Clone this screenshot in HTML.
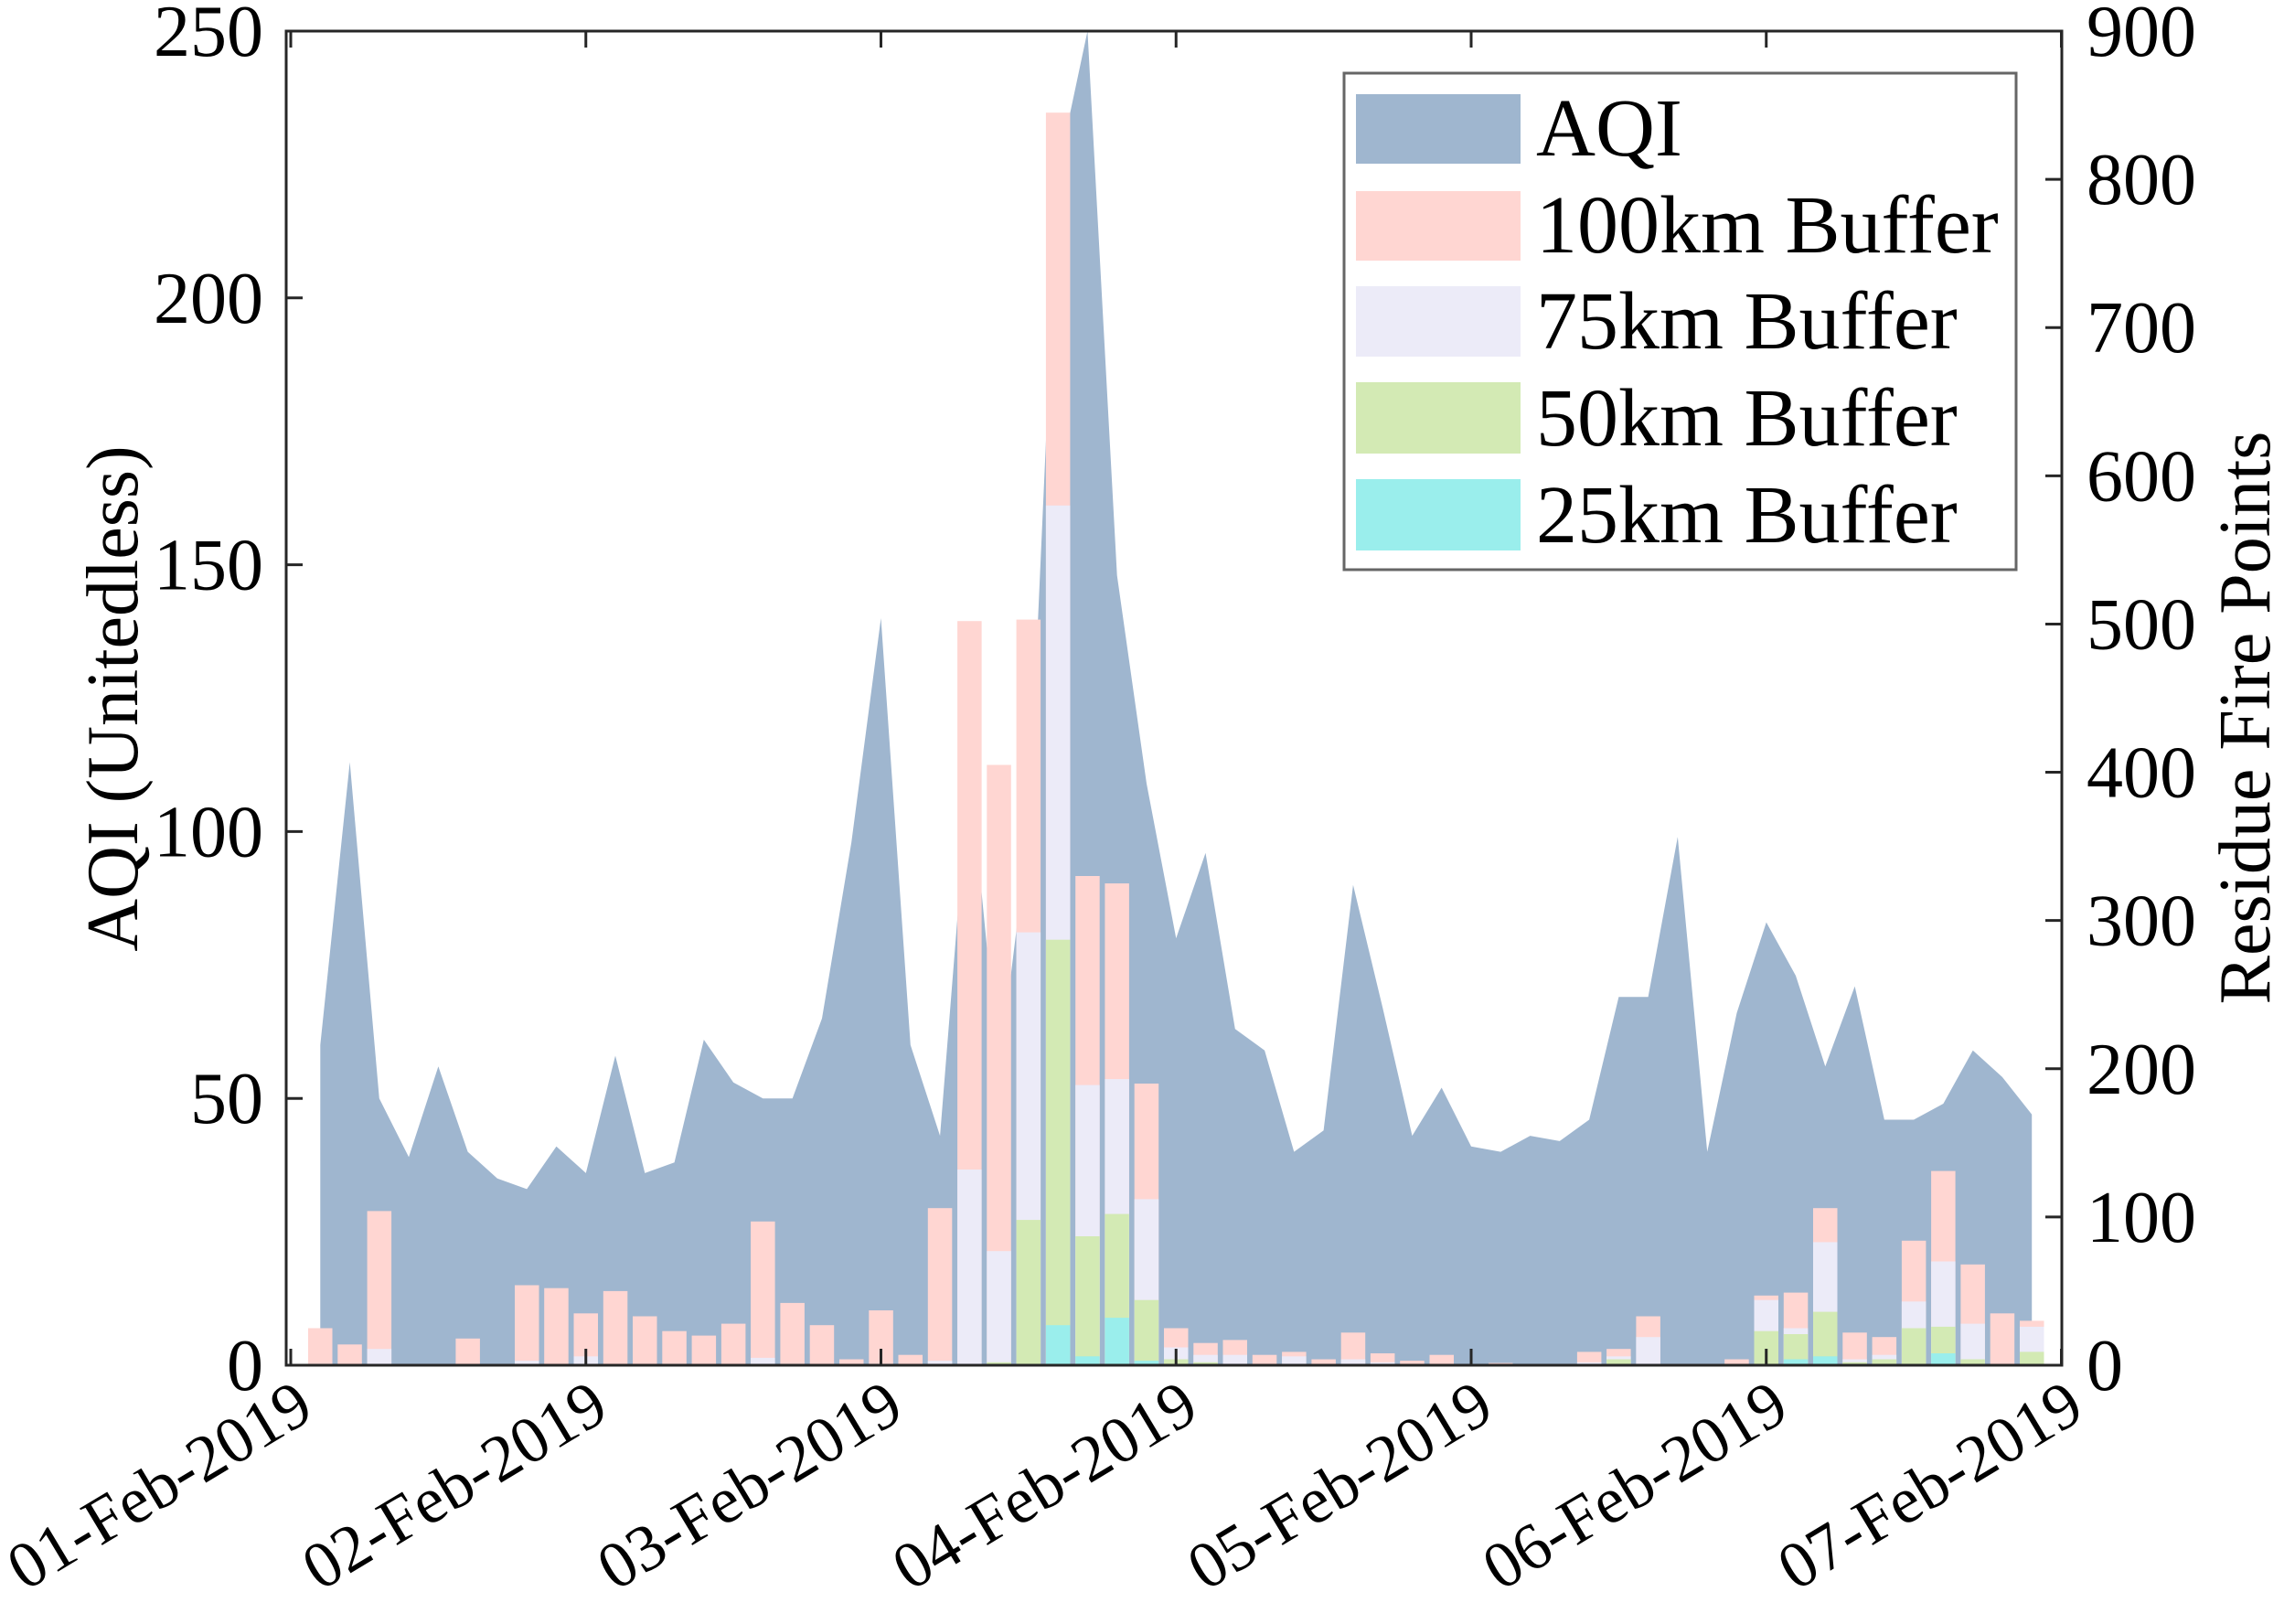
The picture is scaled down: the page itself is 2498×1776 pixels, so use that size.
<!DOCTYPE html>
<html><head><meta charset="utf-8"><style>
html,body{margin:0;padding:0;background:#fff;}
svg text{font-family:"Liberation Serif",serif;fill:#000;}
</style></head><body>
<svg id="chart" width="2498" height="1771" viewBox="0 0 2498 1771" xmlns="http://www.w3.org/2000/svg">
<rect width="2498" height="1771" fill="#fff"/>
<g id="area"></g>
<g id="bars"></g>
<g id="axes"></g>
<g id="legend">
<rect x="1470" y="80" width="735" height="543" fill="#fff" stroke="#666" stroke-width="3"/>
<rect x="1483" y="103" width="180" height="76" fill="#9fb6cf"/>
<text x="1680" y="170" font-size="90">AQI</text>
<rect x="1483" y="209" width="180" height="76" fill="#ffd6d2"/>
<text x="1680" y="276" font-size="90">100km Buffer</text>
<rect x="1483" y="313" width="180" height="77" fill="#ecebf8"/>
<text x="1680" y="381" font-size="90">75km Buffer</text>
<rect x="1483" y="418" width="180" height="78" fill="#d3eab4"/>
<text x="1680" y="487" font-size="90">50km Buffer</text>
<rect x="1483" y="524" width="180" height="78" fill="#9aeeec"/>
<text x="1680" y="593" font-size="90">25km Buffer</text>
</g>
</svg>
<script>
const aqi=[60,113,50,39,56,40,35,33,41,36,58,36,38,61,53,50,50,65,98,140,60,43,112,55,100,224,250,148,109,80,96,63,59,40,44,90,67,43,52,41,40,43,42,46,69,69,99,40,66,83,73,56,71,46,46,49,59,54,47];
const buf100=[25,14,104,0,0,18,0,54,52,35,50,33,23,20,28,97,42,27,4,37,7,106,502,405,503,845,330,325,190,25,15,17,7,9,4,22,8,3,7,0,1.5,0,0,9,11,33,0,0,4,47,49,106,22,19,84,131,68,35,30];
const buf75=[1,0,11,0,0,0,0,3,0,6,0,0,1,0,0,5,1,0,0,1,0,3,132,77,292,580,189,193,112,12,7,7,0,6,0,4,2,0,0,0,0,0,0,2,6,19,0,0,0,44,25,83,4,7,43,70,28,0,26];
const buf50=[0,0,0,0,0,0,0,0,0,0,0,0,0,0,0,0,0,0,0,0,0,0,0,2,98,287,87,102,44,4,2,0,0,0,0,0,0,0,0,0,0,0,0,0,4,0,0,0,0,23,21,36,2,4,25,26,4,0,9];
const buf25=[0,0,0,0,0,0,0,0,0,0,0,0,0,0,0,0,0,0,0,0,0,0,0,0,0,27,6,32,3,0,0,0,0,0,0,0,0,0,0,0,0,0,0,0,0,0,0,0,0,0,4,6,0,0,0,8,0,0,0];
const dateLabels=["01-Feb-2019","02-Feb-2019","03-Feb-2019","04-Feb-2019","05-Feb-2019","06-Feb-2019","07-Feb-2019"];
const leftTicks=[0,50,100,150,200,250];
const rightTicks=[0,100,200,300,400,500,600,700,800,900];

const NS="http://www.w3.org/2000/svg";
const L=313,R=2255,T=34,B=1493;
const xDay=d=>318+d*322.75;
const xIdx=i=>xDay((i+1)/10);
const yL=v=>B-v*(B-T)/250;
const yR=v=>B-v*(B-T)/900;
function mk(tag,attrs,parent){const e=document.createElementNS(NS,tag);for(const k in attrs)e.setAttribute(k,attrs[k]);parent.appendChild(e);return e;}

const area=document.getElementById('area');
let d="M"+xIdx(0)+","+B;
aqi.forEach((v,i)=>{d+=" L"+xIdx(i).toFixed(1)+","+yL(v).toFixed(1);});
d+=" L"+xIdx(aqi.length-1)+","+B+" Z";
const ap=mk('path',{d:d,fill:'#9fb6cf'},area);



const bars=document.getElementById('bars');
const bw=26.5;
const series=[[buf100,'#ffd6d2','bar-100km'],[buf75,'#ecebf8','bar-75km'],[buf50,'#d3eab4','bar-50km'],[buf25,'#9aeeec','bar-25km']];
series.forEach(([arr,col,nm])=>{
  arr.forEach((v,i)=>{
    if(v<=0)return;
    const r=mk('rect',{x:(xIdx(i)-bw/2).toFixed(1),y:yR(v).toFixed(1),width:bw,height:(B-yR(v)).toFixed(1),fill:col},bars);
    
    
  });
});

const ax=document.getElementById('axes');
const frame=mk('rect',{x:L,y:T,width:R-L,height:B-T,fill:'none',stroke:'#262626','stroke-width':3},ax);


leftTicks.forEach(v=>{
  const y=yL(v);
  const t=mk('line',{x1:L,x2:L+18,y1:y,y2:y,stroke:'#262626','stroke-width':3},ax);
  
  
  const tx=mk('text',{x:288,y:y+27,'font-size':80,'text-anchor':'end'},ax);
  tx.textContent=v;
  
  
});
rightTicks.forEach(v=>{
  const y=yR(v);
  const t=mk('line',{x1:R-18,x2:R,y1:y,y2:y,stroke:'#262626','stroke-width':3},ax);
  
  
  const tx=mk('text',{x:2282,y:y+27,'font-size':80,'text-anchor':'start'},ax);
  tx.textContent=v;
  
  
});
dateLabels.forEach((lab,k)=>{
  const x=xDay(k);
  const t1=mk('line',{x1:x,x2:x,y1:B,y2:B-18,stroke:'#262626','stroke-width':3},ax);
  
  
  const t2=mk('line',{x1:x,x2:x,y1:T,y2:T+18,stroke:'#262626','stroke-width':3},ax);
  
  
  const tx=mk('text',{'font-size':72,'text-anchor':'end',transform:'translate('+(x+28)+','+(B+56)+') rotate(-31)'},ax);
  tx.textContent=lab;
  
  
});
const yt=mk('text',{'font-size':80,'text-anchor':'middle',transform:'translate(150,764) rotate(-90)'},ax);
yt.textContent='AQI (Unitedless)';


const yt2=mk('text',{'font-size':80,'text-anchor':'middle',transform:'translate(2482,785) rotate(-90)'},ax);
yt2.textContent='Residue Fire Points';


</script>
</body></html>
